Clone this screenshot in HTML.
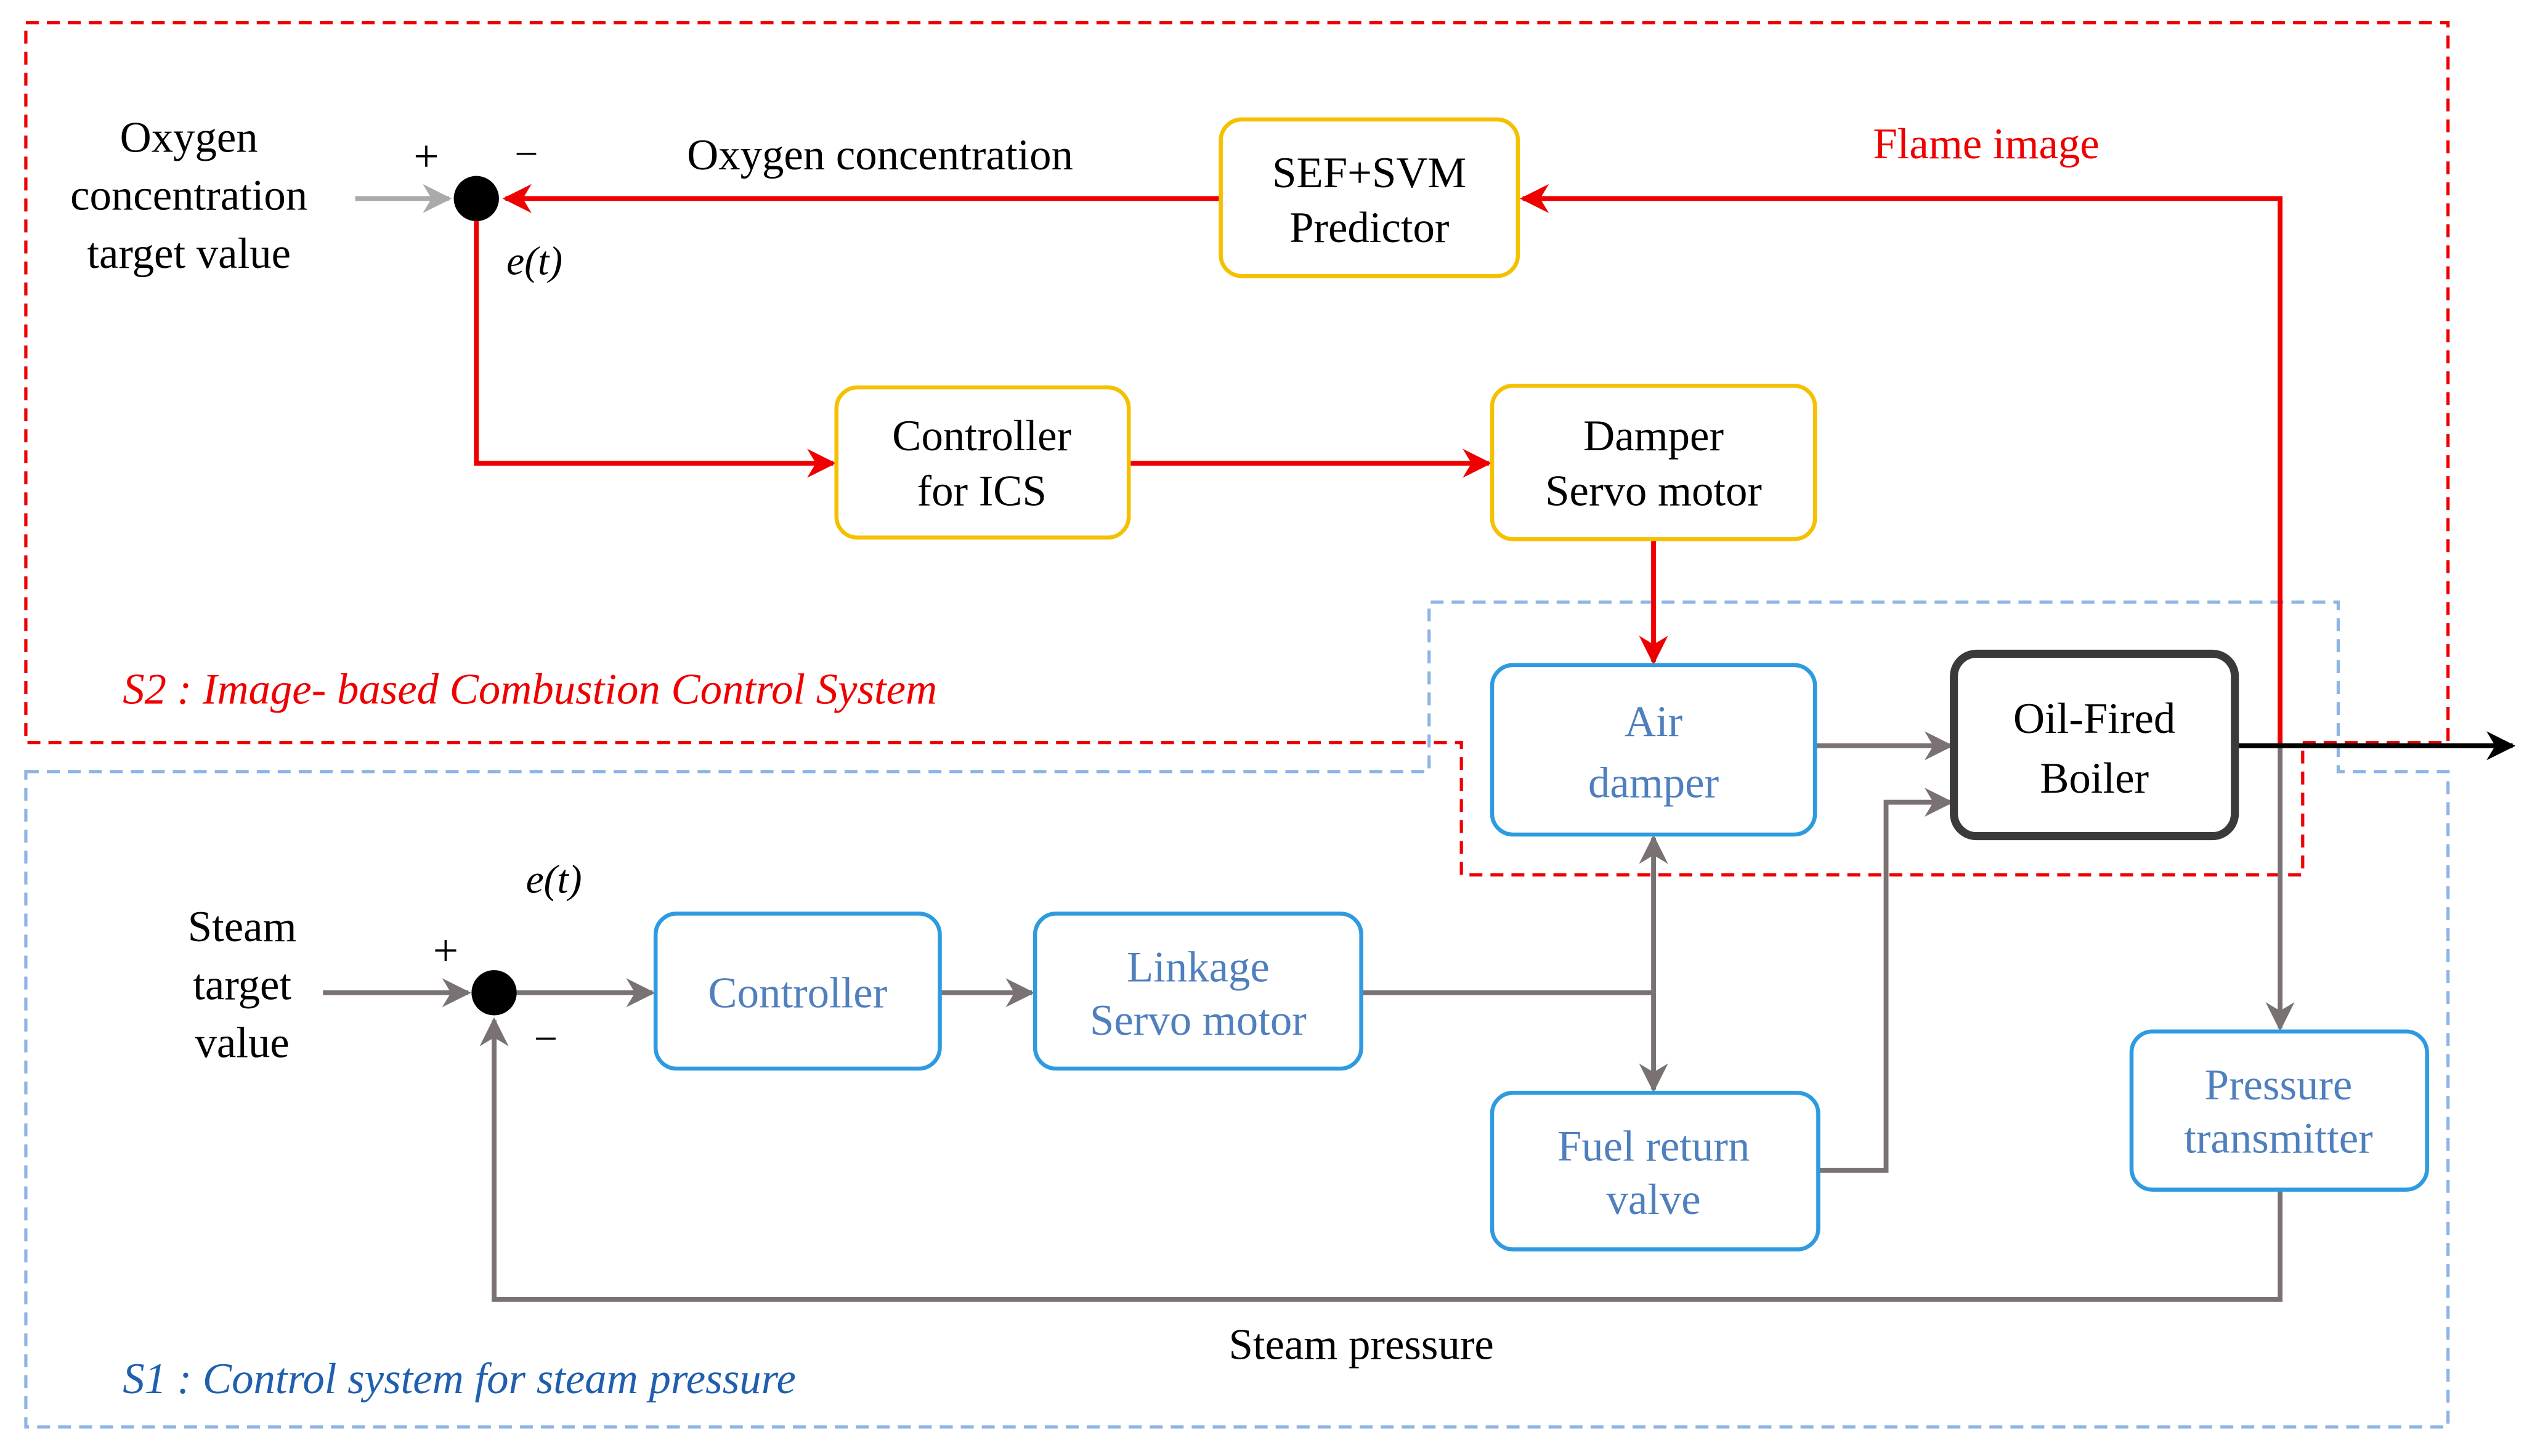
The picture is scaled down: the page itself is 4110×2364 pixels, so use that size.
<!DOCTYPE html>
<html><head><meta charset="utf-8"><style>html,body{margin:0;padding:0;background:#fff}svg{display:block}svg text{font-family:"Liberation Serif","Times New Roman",Times,serif}</style></head>
<body>
<svg xmlns="http://www.w3.org/2000/svg" width="4110" height="2364" viewBox="0 0 1568 902" preserveAspectRatio="none">
<defs>
<marker id="ar" viewBox="0 0 10 10" refX="9" refY="5" markerWidth="22" markerHeight="18" orient="auto" markerUnits="userSpaceOnUse"><path d="M0,0 L10,5 L0,10 L3,5 z" fill="#e00"/></marker>
<marker id="ag" viewBox="0 0 10 10" refX="9" refY="5" markerWidth="22" markerHeight="18" orient="auto" markerUnits="userSpaceOnUse"><path d="M0,0 L10,5 L0,10 L3,5 z" fill="#7a7272"/></marker>
<marker id="alg" viewBox="0 0 10 10" refX="9" refY="5" markerWidth="22" markerHeight="18" orient="auto" markerUnits="userSpaceOnUse"><path d="M0,0 L10,5 L0,10 L3,5 z" fill="#aaa"/></marker>
<marker id="ab" viewBox="0 0 10 10" refX="9" refY="5" markerWidth="22" markerHeight="18" orient="auto" markerUnits="userSpaceOnUse"><path d="M0,0 L10,5 L0,10 L3,5 z" fill="#000"/></marker>
</defs>
<style>
.ar{stroke:#e00;stroke-width:3;fill:none;marker-end:url(#ar)}
.g{stroke:#7a7272;stroke-width:3;fill:none}
.ga{stroke:#7a7272;stroke-width:3;fill:none;marker-end:url(#ag)}
.yb{fill:#fff;stroke:#f5c000;stroke-width:2.5}
.bb{fill:#fff;stroke:#2e9be0;stroke-width:2.5}
.t{font-size:27px;fill:#000;text-anchor:middle}
.tb{font-size:27px;fill:#4f7fbd;text-anchor:middle}
</style>
<path d="M16,478 L885,478 L885,373 L1448,373 L1448,478 L1516,478 L1516,884 L16,884 Z" fill="none" stroke="#8fb4e6" stroke-width="2" stroke-dasharray="8,5"/>
<path d="M16,14 L1516,14 L1516,460 L1426,460 L1426,542 L905,542 L905,460 L16,460 Z" fill="none" stroke="#e00" stroke-width="2" stroke-dasharray="8,5"/>
<path class="ar" d="M756,123 L313,123"/>
<path class="ar" d="M1412,462 L1412,123 L943,123"/>
<path class="ar" d="M295,136 L295,287 L516,287"/>
<path class="ar" d="M699,287 L922,287"/>
<path class="ar" d="M1024,334 L1024,410"/>
<path d="M220,123 L278,123" stroke="#aaa" stroke-width="3" marker-end="url(#alg)"/>
<path class="ga" d="M200,615 L290,615"/>
<path class="ga" d="M320,615 L404,615"/>
<path class="ga" d="M582,615 L639,615"/>
<path class="g" d="M843,615 L1024,615"/>
<path class="ga" d="M1024,615 L1024,519"/>
<path class="ga" d="M1024,615 L1024,675"/>
<path class="ga" d="M1124,462 L1208,462"/>
<path class="ga" d="M1126,725 L1168,725 L1168,497 L1208,497"/>
<path class="ga" d="M1412,462 L1412,637"/>
<path class="ga" d="M1412,737 L1412,805 L306,805 L306,632"/>
<path d="M1384,462 L1556,462" stroke="#000" stroke-width="3" marker-end="url(#ab)"/>
<circle cx="295" cy="123" r="14" fill="#000"/>
<circle cx="306" cy="615" r="14" fill="#000"/>
<rect class="yb" x="756" y="74" width="184" height="97" rx="13"/>
<rect class="yb" x="518" y="240" width="181" height="93" rx="13"/>
<rect class="yb" x="924" y="239" width="200" height="95" rx="13"/>
<rect class="bb" x="924" y="412" width="200" height="105" rx="13"/>
<rect class="bb" x="406" y="566" width="176" height="96" rx="13"/>
<rect class="bb" x="641" y="566" width="202" height="96" rx="13"/>
<rect class="bb" x="924" y="677" width="202" height="97" rx="13"/>
<rect class="bb" x="1320" y="639" width="183" height="98" rx="13"/>
<rect x="1210" y="405" width="174" height="113" rx="14" fill="#fff" stroke="#3a3a3a" stroke-width="5"/>
<text class="t" x="848" y="116">SEF+SVM</text><text class="t" x="848" y="150">Predictor</text>
<text class="t" x="608" y="279">Controller</text><text class="t" x="608" y="313">for ICS</text>
<text class="t" x="1024" y="279">Damper</text><text class="t" x="1024" y="313">Servo motor</text>
<text class="tb" x="1024" y="456">Air</text><text class="tb" x="1024" y="494">damper</text>
<text class="tb" x="494" y="624">Controller</text>
<text class="tb" x="742" y="608">Linkage</text><text class="tb" x="742" y="641">Servo motor</text>
<text class="tb" x="1024" y="719">Fuel return</text><text class="tb" x="1024" y="752">valve</text>
<text class="tb" x="1411" y="681">Pressure</text><text class="tb" x="1411" y="714">transmitter</text>
<text class="t" x="1297" y="454">Oil-Fired</text><text class="t" x="1297" y="491">Boiler</text>
<text class="t" x="117" y="94">Oxygen</text><text class="t" x="117" y="130">concentration</text><text class="t" x="117" y="166">target value</text>
<text class="t" x="545" y="105">Oxygen concentration</text>
<text x="1230" y="98" font-size="27" fill="#e00" text-anchor="middle">Flame image</text>
<text x="264" y="106" font-size="28" text-anchor="middle">+</text>
<text x="326" y="104" font-size="26" text-anchor="middle">−</text>
<text x="331" y="170" font-size="25" font-style="italic" text-anchor="middle">e(t)</text>
<text x="343" y="553" font-size="25" font-style="italic" text-anchor="middle">e(t)</text>
<text x="276" y="598" font-size="28" text-anchor="middle">+</text>
<text x="338" y="652" font-size="26" text-anchor="middle">−</text>
<text class="t" x="150" y="583">Steam</text><text class="t" x="150" y="619">target</text><text class="t" x="150" y="655">value</text>
<text class="t" x="843" y="842">Steam pressure</text>
<text x="76" y="436" font-size="27" font-style="italic" fill="#e00">S2 : Image- based Combustion Control System</text>
<text x="76" y="863" font-size="27" font-style="italic" fill="#1f5fae">S1 : Control system for steam pressure</text>
</svg>
</body></html>
